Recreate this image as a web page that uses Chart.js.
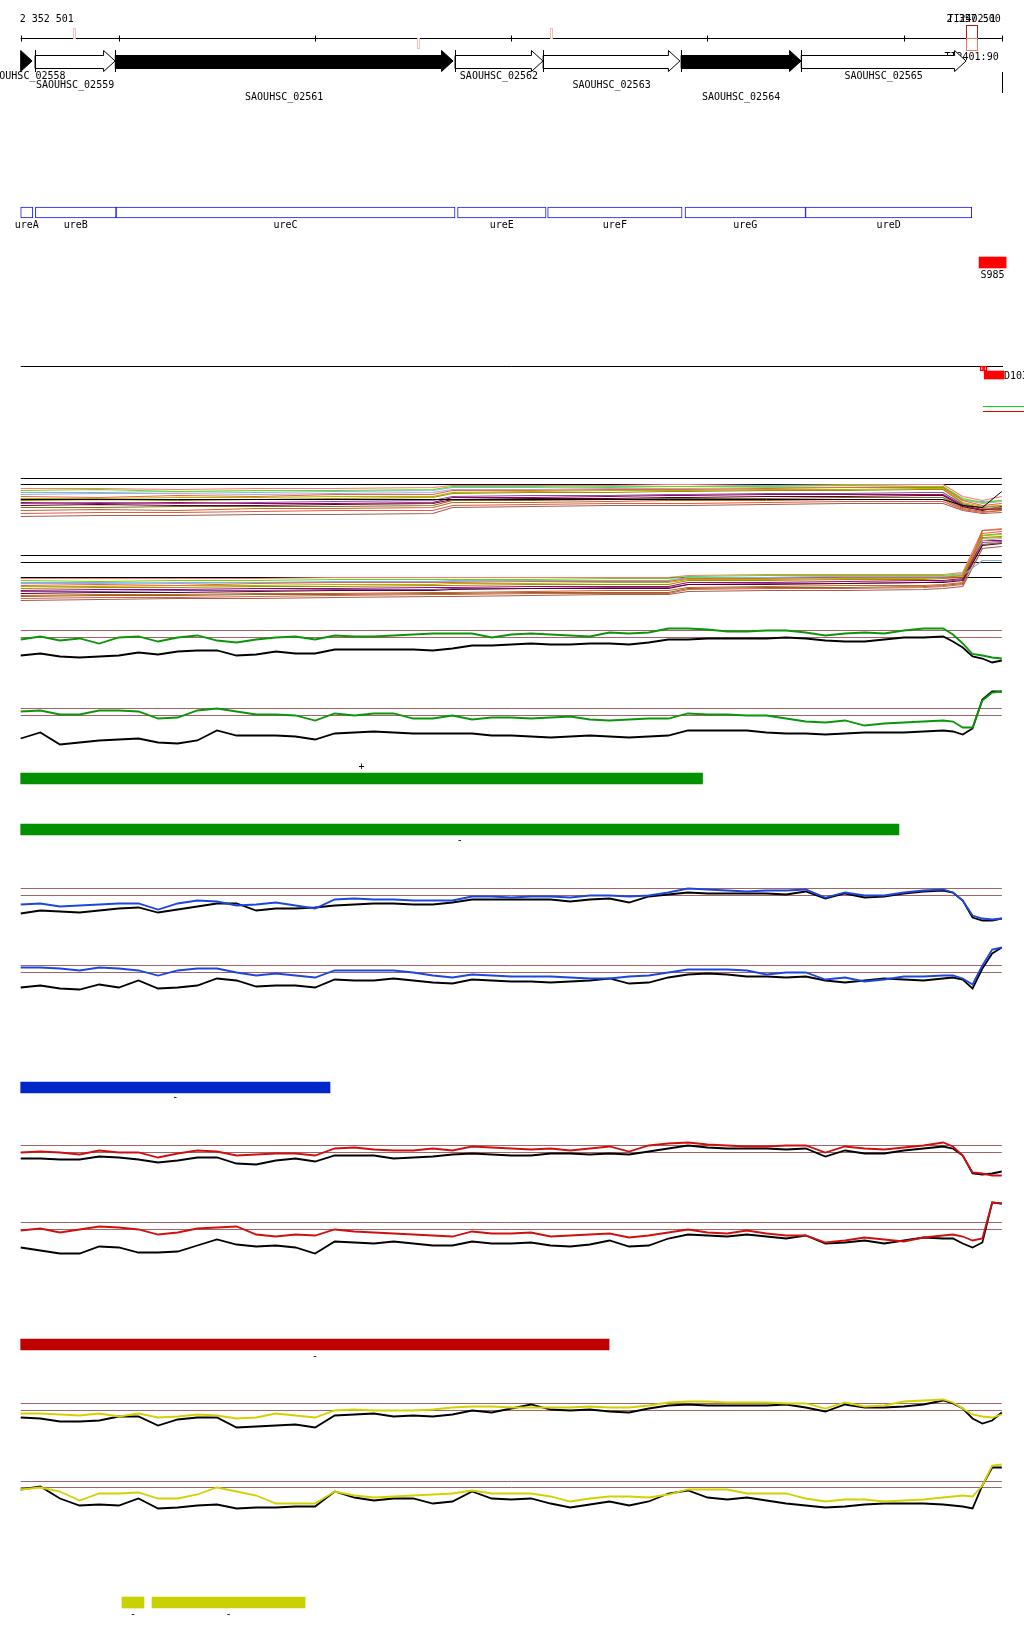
<!DOCTYPE html>
<html><head><meta charset="utf-8">
<script src="https://cdn.jsdelivr.net/npm/chart.js@4/dist/chart.umd.min.js"></script>
<style>
html,body{margin:0;padding:0;background:#fff;}
#wrap{position:relative;width:1024px;height:1640px;overflow:hidden;background:#fff;}
#wrap canvas{position:absolute;left:0;}
</style></head><body><div id="wrap"></div>
<script>
// ---------------- DATA ----------------
const regionStart = 2352501;
const regionEnd = 2357500;
const rulerTicks = [2353000, 2354000, 2355000, 2356000, 2357000];

const geneNames  = ['SAOUHSC_02558','SAOUHSC_02559','SAOUHSC_02561','SAOUHSC_02562','SAOUHSC_02563','SAOUHSC_02564','SAOUHSC_02565'];
const geneStarts = [2352440, 2352574, 2352983, 2354714, 2355163, 2355866, 2356478];
const geneEnds   = [2352559, 2352982, 2354704, 2355162, 2355860, 2356477, 2357318];

const tssPositions = [2352773, 2354525, 2355203];
const tssStrands   = ['+', '-', '+'];
const transcriptStart = 2357318, transcriptEnd = 2357374;
const transcriptLabels = ['TI2402:1', 'TI2401:90'];

const operonNames  = ['ureA','ureB','ureC','ureE','ureF','ureG','ureD'];
const operonStarts = [2352501, 2352576, 2352987, 2354727, 2355186, 2355886, 2356500];
const operonEnds   = [2352563, 2352987, 2354714, 2355178, 2355871, 2356500, 2357347];

const srnaNames = ['S985'], srnaStarts = [2357384], srnaEnds = [2357522];
const d103Names = ['D103'], d103Starts = [2357410], d103Ends = [2357511];
const siteStarts = [2357389, 2357407], siteEnds = [2357407, 2357425];
const coveragePos = [2352501, 2357506], coverageLevel = [54, 54];
const sidePos = [2357404, 2357620], sideGreen = [14, 14], sideRed = [9, 9];

// tiling-array multi-condition profiles
const multiPos = [2352501,2352901,2353301,2353701,2354101,2354601,2354701,2355101,2355501,2355801,2355901,2356301,2356701,2357101,2357201,2357301,2357401,2357500];
const upperRefLevels = [52, 46];
const upperProfiles = [
 [34,33,35,34,36,36,40,40,41,41,41,42,43,43,43,30,25,27],
 [30,31,30,31,32,33,37,38,38,39,39,40,40,41,41,27,22,23],
 [40,41,39,40,40,41,44,44,43,44,44,44,45,44,44,32,28,30],
 [38,38,39,38,39,40,43,43,44,44,44,45,45,44,44,30,29,30],
 [36,37,37,36,37,38,41,41,42,42,42,43,43,43,43,31,27,29],
 [28,27,28,27,27,28,33,33,34,35,35,36,36,36,36,25,21,22],
 [25,26,25,25,26,27,31,32,32,33,33,34,34,35,35,24,20,24],
 [20,21,20,22,22,23,28,28,29,30,30,30,31,31,31,22,19,20],
 [17,18,18,19,20,20,25,26,27,27,27,28,29,29,29,21,18,20],
 [14,15,15,16,16,17,23,24,25,25,25,26,27,27,27,20,17,18],
 [32,32,33,33,34,34,38,39,40,40,40,41,41,42,42,28,24,25],
 [42,42,41,42,42,43,45,45,45,46,46,45,46,46,46,34,30,34],
 [27,28,27,28,29,30,34,35,35,36,36,37,37,38,38,26,23,25],
 [23,23,24,24,24,25,30,30,31,32,32,32,33,33,33,23,21,21]
];
const upperBlackProfile = [31,31,31,31,31,31,31,31,31,31,31,31,31,31,31,25,23,39];
const lowerRefLevels = [55, 48, 33];
const lowerProfiles = [
 [25,26,25,27,28,28,28,29,29,29,32,32,33,33,33,35,77,79],
 [22,23,23,24,24,25,25,26,26,26,30,30,31,31,32,33,73,74],
 [30,29,30,30,31,31,31,31,32,32,34,35,35,35,35,37,75,76],
 [28,28,27,28,29,29,30,30,30,30,33,33,34,34,34,35,50,50],
 [27,27,28,28,28,29,29,30,30,30,33,33,34,34,34,36,70,72],
 [20,21,21,22,22,23,23,24,24,24,28,28,29,30,30,32,70,70],
 [17,18,18,19,20,20,21,22,22,22,26,26,27,28,28,30,65,67],
 [15,16,16,17,17,18,18,19,20,20,23,24,25,25,26,28,80,81],
 [12,13,13,14,15,16,16,17,17,17,21,22,22,23,24,26,75,77],
 [10,11,12,12,13,14,14,15,16,16,19,20,20,21,22,24,62,64],
 [24,24,25,25,26,26,27,27,28,28,31,31,32,32,33,34,72,73],
 [32,32,32,32,33,33,33,33,33,33,35,36,36,36,36,38,80,82],
 [19,19,20,20,21,21,22,22,23,23,26,27,27,28,29,31,68,69],
 [14,15,15,16,16,17,17,18,18,18,22,23,23,24,25,27,66,68]
];

// strand-specific expression profiles
const probePos = [2352501,2352601,2352701,2352801,2352901,2353001,2353101,2353201,2353301,2353401,
 2353501,2353601,2353701,2353801,2353901,2354001,2354101,2354201,2354301,2354401,
 2354501,2354601,2354701,2354801,2354901,2355001,2355101,2355201,2355301,2355401,
 2355501,2355601,2355701,2355801,2355901,2356001,2356101,2356201,2356301,2356401,
 2356501,2356601,2356701,2356801,2356901,2357001,2357101,2357201,
 2357251,2357301,2357351,2357401,2357451,2357500];

const greenPlus = [41,44,40,42,37,43,44,39,43,45, 40,38,41,43,44,41,45,44,44,45, 46,47,47,47,43,46,47,46,45,44, 48,47,48,52,52,51,49,49,50,50, 48,45,47,48,47,50,52,52, 46,37,26.5,25,23,22];
const greenPlusRef = [25,27,24,23,24,25,28,26,29,30, 30,25,26,29,27,27,31,31,31,31, 31,30,32,35,35,36,37,36,36,37, 37,36,38,41,41,42,42,42,42,43, 42,40,39,39,41,43,43,44, 39,33,24,22,18,20];
const greenMinus = [39,40,36,36,40,40,39,32,33,40, 42,39,36,36,35,30,37,35,37,37, 32,32,35,31,33,33,32,33,34,31, 30,31,32,32,37,36,36,35,35,32, 29,28,30,25,27,28,29,30, 29,23,23,50,58,59];
const greenMinusRef = [12,18,6,8,10,11,12,8,7,10, 20,15,15,15,14,11,17,18,19,18, 17,17,17,17,15,15,14,13,14,15, 14,13,14,15,20,20,20,20,18,17, 17,16,17,18,18,18,19,20, 19,16,22,51,59,59];
const greenPlusThr = [50, 43], greenMinusThr = [42, 35];

const bluePlus = [26,27,24,25,26,27,27,21,27,30, 29,25,26,28,25,22,31,32,31,31, 30,30,30,34,34,33,34,34,33,35, 35,34,35,38,42,41,40,39,40,40, 41,33,38,35,35,38,40,41, 38,30,15,12,11,12];
const bluePlusRef = [17,20,19,18,20,22,23,18,21,24, 27,27,20,22,22,23,25,26,27,27, 26,26,28,31,31,31,31,31,29,31, 32,28,34,36,38,37,37,37,37,36, 39,32,37,33,34,37,39,40, 38,30,13,10,10,12];
const blueMinus = [33,33,32,30,33,32,30,25,30,32, 32,28,25,27,25,23,30,30,30,30, 28,25,23,26,25,24,24,24,23,22, 22,24,25,28,31,31,31,30,26,28, 28,21,23,19,21,24,24,25, 25,22,16,35,51,53];
const blueMinusRef = [13,15,12,11,16,13,20,12,13,15, 22,20,14,15,15,13,21,20,20,22, 20,18,17,21,20,19,19,18,19,20, 22,17,18,23,26,27,26,24,24,23, 24,20,18,20,22,21,20,22, 23,21,12,32,47,53];
const bluePlusThr = [42, 35], blueMinusThr = [35, 28];

const redPlus = [28,29,28,26,30,28,28,23,27,30, 29,25,26,27,27,25,32,33,31,30, 30,32,30,34,33,32,31,32,30,32, 34,29,35,37,38,36,35,34,34,35, 35,28,34,32,31,33,35,38, 34,25,8,7,5,5];
const redPlusRef = [22,22,21,21,24,23,21,18,20,23, 23,17,16,20,22,19,25,25,25,22, 23,24,26,27,26,25,25,27,27,26, 27,26,29,32,35,33,32,32,32,31, 32,24,30,27,27,30,32,34, 32,25,7,6,7,9];
const redMinus = [30,32,28,31,34,33,31,26,28,32, 33,34,26,24,26,25,31,29,28,27, 26,25,24,29,27,27,28,24,25,26, 27,23,25,28,31,28,27,30,27,25, 25,18,20,23,21,19,23,25, 26,24,20,22,58,57];
const redMinusRef = [13,10,7,7,14,13,8,8,9,15, 21,16,14,15,13,7,19,18,17,19, 17,15,15,19,17,17,18,15,14,16, 20,14,15,22,26,25,24,26,24,22, 25,17,18,20,17,20,23,22, 22,17,13,18,58,57];
const redPlusThr = [35, 28], redMinusThr = [38, 31];

const yellowPlus = [27,27,26,25,27,24,27,23,24,26, 25,22,23,27,25,23,30,31,30,30, 30,31,33,34,34,33,33,33,33,34, 33,33,35,38,39,39,38,38,38,37, 37,32,38,34,35,39,40,41, 38,32,26,24,23,26];
const yellowPlusRef = [23,22,19,19,20,24,24,15,21,23, 23,13,14,15,16,13,25,26,27,24, 25,24,26,30,28,32,36,31,30,31, 29,28,32,35,36,35,35,35,35,36, 33,29,36,33,33,34,36,40, 37,32,22,17,20,28];
const yellowMinus = [31,33,29,20,27,27,28,22,22,26, 33,29,25,17,17,17,29,25,23,24, 25,26,27,30,27,27,27,24,19,22, 24,24,23,26,31,31,31,27,27,27, 22,19,21,21,19,20,21,23, 24,25,24,35,55,56];
const yellowMinusRef = [31,34,22,15,16,15,22,12,13,15, 16,12,13,13,14,14,29,23,20,22, 22,17,19,29,22,21,22,17,13,16, 19,15,19,27,30,23,21,23,20,17, 15,13,14,16,17,17,17,16, 15,14,12,35,53,53];
const yellowPlusThr = [37, 30], yellowMinusThr = [39, 33];

// segment calls
const greenPlusSegStarts = [2352501], greenPlusSegEnds = [2355975], greenPlusSegStrand = ['+'];
const greenMinusSegStarts = [2352501], greenMinusSegEnds = [2356976], greenMinusSegStrand = ['-'];
const blueSegStarts = [2352501], blueSegEnds = [2354077], blueSegStrand = ['-'];
const redSegStarts = [2352501], redSegEnds = [2355499], redSegStrand = ['-'];
const yellowSegStarts = [2353017, 2353170], yellowSegEnds = [2353129, 2353950], yellowSegStrand = ['-', '-'];

// ---------------- STYLE / LAYOUT ----------------
const PAD_L = 20.7, PAD_R = 22.2;
const FONT = '10px "DejaVu Sans Mono", monospace';
const THR = '#a06464';
const geneFill = {'SAOUHSC_02558':'#000','SAOUHSC_02559':'#fff','SAOUHSC_02561':'#000','SAOUHSC_02562':'#fff','SAOUHSC_02563':'#fff','SAOUHSC_02564':'#000','SAOUHSC_02565':'#fff'};
const geneLabelRow = [0,1,2,0,1,2,0];
const profileColors = ['#e8643c','#a08c00','#5ce000','#78b4f0','#b4a0d2','#a0006e','#5a0028','#c86428','#e05a50','#a0604a','#b4b400','#ff7878','#8050a0','#807020'];

const wrap = document.getElementById('wrap');
function mkCanvas(top, height){
  const c = document.createElement('canvas');
  c.width = 1024; c.height = height;
  c.style.top = top + 'px'; c.style.width = '1024px'; c.style.height = height + 'px';
  wrap.appendChild(c);
  return c;
}
function lineOptions(h){
  return {
    responsive:false, animation:false, devicePixelRatio:1, events:[],
    layout:{padding:{left:PAD_L,right:PAD_R,top:0,bottom:0}},
    plugins:{legend:{display:false},tooltip:{enabled:false}},
    elements:{point:{radius:0},line:{tension:0}},
    scales:{
      x:{type:'linear',min:regionStart,max:regionEnd,display:false},
      y:{type:'linear',min:0.5,max:h+0.5,display:false}
    }
  };
}
function pts(pos, vals){ return vals.map((v,i)=>({x:pos[i], y:v})); }
function flat(level){ return [{x:regionStart,y:level},{x:regionEnd,y:level}]; }

// ---------- bar label plugin ----------
const barLabelPlugin = {
  id:'barLabels',
  afterDatasetsDraw(chart, args, o){
    if(!o.labels || !o.labels.length) return;
    const ctx = chart.ctx, xs = chart.scales.x, ca = chart.chartArea;
    const d = chart.data.datasets[0].data;
    ctx.save(); ctx.font = FONT; ctx.fillStyle = '#000'; ctx.textBaseline = 'middle';
    o.labels.forEach((t,i)=>{
      if(!t) return;
      const s = Math.max(d[i].x[0], regionStart), e = d[i].x[1];
      if(o.pos === 'right'){
        ctx.textAlign = 'left';
        ctx.fillText(t, xs.getPixelForValue(e), (ca.top+ca.bottom)/2 + 1);
      } else {
        ctx.textAlign = 'center';
        const x = xs.getPixelForValue((s+e)/2);
        ctx.fillText(t, x, o.pos === 'above' ? ca.top - o.gap : ca.bottom + o.gap);
      }
    });
    ctx.restore();
  }
};
function barTrack(cfg){
  const ct = cfg.barTop - 16, ch = cfg.barH + 32;
  const c = mkCanvas(ct, ch);
  const data = cfg.starts.map((s,i)=>({x:[s, cfg.ends[i]], y:'row'}));
  new Chart(c, {
    type:'bar',
    data:{labels:['row'], datasets:[{data, backgroundColor:cfg.fill, borderColor:cfg.border || cfg.fill,
      borderWidth:cfg.bw || 0, borderSkipped:false, barPercentage:1, categoryPercentage:1, grouped:false, clip:false}]},
    options:{
      responsive:false, animation:false, devicePixelRatio:1, indexAxis:'y', events:[],
      layout:{padding:{left:PAD_L,right:PAD_R,top:16,bottom:16}},
      plugins:{legend:{display:false},tooltip:{enabled:false},
        barLabels:{labels:cfg.labels || [], pos:cfg.labelPos || 'below', gap:cfg.gap || 6}},
      scales:{x:{type:'linear',min:regionStart,max:regionEnd,display:false},
              y:{type:'category',display:false}}
    },
    plugins:[barLabelPlugin]
  });
}

// ---------- annotation (ruler + genes) ----------
const annotPlugin = {
  id:'annot',
  afterDraw(chart){
    const ctx = chart.ctx, X = v => chart.scales.x.getPixelForValue(v);
    const ln = (a,b,c,d)=>{ctx.beginPath(); ctx.moveTo(a,b); ctx.lineTo(c,d); ctx.stroke();};
    const fmt = n => String(n).replace(/\B(?=(\d{3})+(?!\d))/g,' ');
    ctx.save();
    ctx.lineWidth = 1; ctx.strokeStyle = '#000'; ctx.fillStyle = '#000';
    ctx.font = FONT; ctx.textBaseline = 'middle';
    const x0 = X(regionStart), x1 = X(regionEnd), ry = 38.5;
    ln(x0, ry, x1, ry);
    [regionStart, ...rulerTicks, regionEnd].forEach(t=>{ const x = Math.round(X(t))+0.5; ln(x, ry-3, x, ry+3); });
    ctx.textAlign = 'left'; ctx.fillText(fmt(regionStart), x0 - 1, 19.5);
    ctx.textAlign = 'right'; ctx.fillText(fmt(regionEnd), x1 - 1, 19.5);
    // transcript box
    const ta = X(transcriptStart), tb = X(transcriptEnd), tc = (ta+tb)/2;
    ctx.strokeStyle = '#b01818'; ctx.strokeRect(Math.round(ta)+0.5, 25.5, Math.round(tb-ta), 13);
    ctx.strokeStyle = '#f07868'; ctx.strokeRect(Math.round(ta)+0.5, 38.5, Math.round(tb-ta), 12);
    ctx.textAlign = 'center'; ctx.fillStyle = '#000';
    ctx.fillText(transcriptLabels[0], tc, 19.5);
    ctx.fillText(transcriptLabels[1], tc, 57.5);
    // TSS marks
    ctx.strokeStyle = '#f2c0b8';
    tssPositions.forEach((p,i)=>{
      const x = Math.round(X(p)) - 0.5;
      if(tssStrands[i] === '+') ctx.strokeRect(x, 28.5, 2, 10); else ctx.strokeRect(x, 38.5, 2, 10);
    });
    // genes
    ctx.strokeStyle = '#000';
    const gT = 50.5, gB = 71.5, bT = 55.5, bB = 68.5, gM = 61;
    geneNames.forEach((name,i)=>{
      const s = X(Math.max(geneStarts[i], regionStart)), e = X(geneEnds[i]);
      const head = Math.min(11.5, e - s);
      ctx.beginPath();
      if(head >= e - s){
        ctx.moveTo(s, gT); ctx.lineTo(e, gM); ctx.lineTo(s, gB); ctx.closePath();
      } else {
        ctx.moveTo(s, bT); ctx.lineTo(e-head, bT); ctx.lineTo(e-head, gT); ctx.lineTo(e, gM);
        ctx.lineTo(e-head, gB); ctx.lineTo(e-head, bB); ctx.lineTo(s, bB); ctx.closePath();
      }
      ctx.fillStyle = geneFill[name]; ctx.fill(); ctx.stroke();
      if(geneStarts[i] >= regionStart){ const xs = Math.round(s)+0.5; ln(xs, 50, xs, 72); }
      ctx.fillStyle = '#000'; ctx.textAlign = 'center';
      ctx.fillText(name, (s+e)/2, [76.5, 85, 97][geneLabelRow[i]]);
    });
    const xe = Math.round(x1)+0.5; ln(xe, 72, xe, 93);
    ctx.restore();
  }
};
new Chart(mkCanvas(0, 110), {type:'line', data:{datasets:[{data:[]}]}, options:lineOptions(110), plugins:[annotPlugin]});

// operons, sRNA, D103
barTrack({barTop:207, barH:11, starts:operonStarts, ends:operonEnds, fill:'#ffffff', border:'#1414e6', bw:1, labels:operonNames, labelPos:'below', gap:7});
barTrack({barTop:257, barH:11, starts:srnaStarts, ends:srnaEnds, fill:'#ff0000', labels:srnaNames, labelPos:'below', gap:7});
new Chart(mkCanvas(350, 70), {type:'line', data:{datasets:[
  {data:pts(coveragePos, coverageLevel), borderColor:'#000', borderWidth:1, clip:false},
  {data:pts(sidePos, sideGreen), borderColor:'#00e000', borderWidth:1, clip:false},
  {data:pts(sidePos, sideRed), borderColor:'#e00000', borderWidth:1, clip:false}
]}, options:lineOptions(70)});
barTrack({barTop:366, barH:5, starts:siteStarts, ends:siteEnds, fill:'rgba(255,255,255,0)', border:'#ff0000', bw:1});
barTrack({barTop:371, barH:8, starts:d103Starts, ends:d103Ends, fill:'#ff0000', labels:d103Names, labelPos:'right'});

// multi-condition profile tracks
function profileTrack(top, h, refs, profiles, black){
  const ds = [];
  if(black) ds.push({data:pts(multiPos, black), borderColor:'#000', borderWidth:1, clip:false});
  profiles.forEach((p,i)=>ds.push({data:pts(multiPos, p), borderColor:profileColors[i % profileColors.length], borderWidth:1.2, clip:false}));
  refs.forEach(r=>ds.push({data:flat(r), borderColor:'#000', borderWidth:1.2, clip:false}));
  new Chart(mkCanvas(top, h), {type:'line', data:{datasets:ds}, options:lineOptions(h)});
}
profileTrack(450, 80, upperRefLevels, upperProfiles, upperBlackProfile);
profileTrack(510, 100, lowerRefLevels, lowerProfiles, null);

// expression tracks
function exprTrack(top, h, color, vals, ref, thr){
  const ds = [
    {data:pts(probePos, vals), borderColor:color, borderWidth:1.8, clip:false},
    {data:pts(probePos, ref), borderColor:'#000', borderWidth:1.8, clip:false}
  ];
  thr.forEach(t=>ds.push({data:flat(t), borderColor:THR, borderWidth:1, clip:false}));
  new Chart(mkCanvas(top, h), {type:'line', data:{datasets:ds}, options:lineOptions(h)});
}
exprTrack(600, 80, '#0a960a', greenPlus, greenPlusRef, greenPlusThr);
exprTrack(670, 80, '#0a960a', greenMinus, greenMinusRef, greenMinusThr);
barTrack({barTop:773, barH:11, starts:greenPlusSegStarts, ends:greenPlusSegEnds, fill:'#009000', labels:greenPlusSegStrand, labelPos:'above', gap:6});
barTrack({barTop:824, barH:11, starts:greenMinusSegStarts, ends:greenMinusSegEnds, fill:'#009000', labels:greenMinusSegStrand, labelPos:'below', gap:5});

exprTrack(850, 80, '#1e46dc', bluePlus, bluePlusRef, bluePlusThr);
exprTrack(920, 80, '#1e46dc', blueMinus, blueMinusRef, blueMinusThr);
barTrack({barTop:1082, barH:11, starts:blueSegStarts, ends:blueSegEnds, fill:'#0028c8', labels:blueSegStrand, labelPos:'below', gap:4});

exprTrack(1100, 80, '#d01010', redPlus, redPlusRef, redPlusThr);
exprTrack(1180, 80, '#d01010', redMinus, redMinusRef, redMinusThr);
barTrack({barTop:1339, barH:11, starts:redSegStarts, ends:redSegEnds, fill:'#c00000', labels:redSegStrand, labelPos:'below', gap:6});

exprTrack(1360, 80, '#d2d200', yellowPlus, yellowPlusRef, yellowPlusThr);
exprTrack(1440, 80, '#d2d200', yellowMinus, yellowMinusRef, yellowMinusThr);
barTrack({barTop:1597, barH:11, starts:yellowSegStarts, ends:yellowSegEnds, fill:'#c8d200', labels:yellowSegStrand, labelPos:'below', gap:6});
</script></body></html>
